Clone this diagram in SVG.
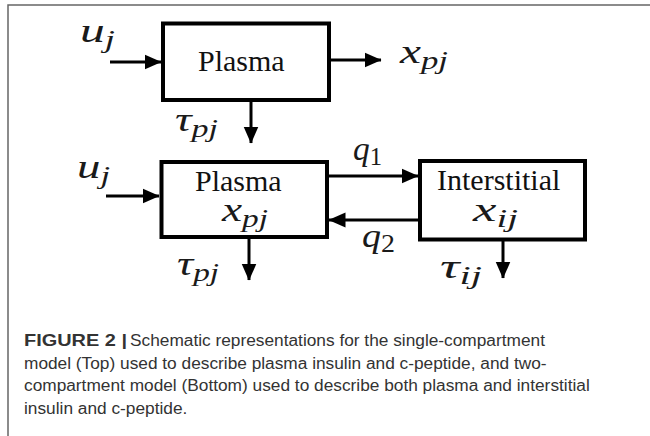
<svg xmlns="http://www.w3.org/2000/svg" width="650" height="436" viewBox="0 0 650 436">
<style>
.box{fill:#fff;stroke:#000;stroke-width:4}
.lbl{font-family:"Liberation Serif",serif;font-size:30px;fill:#111}
.m{font-family:"Liberation Serif",serif;font-style:italic;font-size:34px;fill:#1a1a1a}
.s{font-size:25px}
.con{stroke:#000;stroke-width:3;fill:none;marker-end:url(#ah)}
.cap{font-family:"Liberation Sans",Arial,sans-serif;font-size:17.3px;fill:#333}
</style>
<defs>
<marker id="ah" markerUnits="userSpaceOnUse" markerWidth="17" markerHeight="16" viewBox="0 0 17 16" refX="16.5" refY="8" orient="auto">
<path d="M0,0.5 L17,8 L0,15.5 Z" fill="#000"/>
</marker>
</defs>
<rect width="650" height="436" fill="#fff"/>
<path d="M8,436 V5 H650" fill="none" stroke="#666" stroke-width="1.5"/>
<g id="connectors">
<line class="con" x1="110" y1="62" x2="161" y2="62"/>
<line class="con" x1="331" y1="60" x2="381" y2="60"/>
<line class="con" x1="251" y1="102" x2="251" y2="143"/>
<line class="con" x1="106" y1="196" x2="159" y2="196"/>
<line class="con" x1="329" y1="176" x2="418" y2="176"/>
<line class="con" x1="418" y1="220" x2="329" y2="220"/>
<line class="con" x1="249" y1="239" x2="249" y2="280"/>
<line class="con" x1="503" y1="241" x2="503" y2="278"/>
</g>
<g id="labels">
<text class="m" x="80" y="42" textLength="35" lengthAdjust="spacingAndGlyphs">u<tspan class="s" dy="6">j</tspan></text>
<text class="m" x="400" y="63" textLength="48" lengthAdjust="spacingAndGlyphs">x<tspan class="s" dy="6">pj</tspan></text>
<text class="m" x="175" y="131" textLength="43" lengthAdjust="spacingAndGlyphs">τ<tspan class="s" dy="6">pj</tspan></text>
<text class="m" x="77" y="178" textLength="33" lengthAdjust="spacingAndGlyphs">u<tspan class="s" dy="6">j</tspan></text>
<text class="m" x="353" y="160" textLength="29" lengthAdjust="spacingAndGlyphs">q<tspan class="s" dy="5" font-style="normal">1</tspan></text>
<text class="m" x="362" y="247" textLength="33" lengthAdjust="spacingAndGlyphs">q<tspan class="s" dy="5" font-style="normal">2</tspan></text>
<text class="m" x="177" y="275" textLength="42" lengthAdjust="spacingAndGlyphs">τ<tspan class="s" dy="6">pj</tspan></text>
<text class="m" x="440" y="278" textLength="42" lengthAdjust="spacingAndGlyphs">τ<tspan class="s" dy="6">ij</tspan></text>
</g>
<g id="plasma-top">
<rect class="box" x="163" y="23.5" width="166" height="76.5"/>
<text class="lbl" x="198" y="71">Plasma</text>
</g>
<g id="plasma-bottom">
<rect class="box" x="161.5" y="162" width="165.5" height="75"/>
<text class="lbl" x="195" y="191">Plasma</text>
<text class="m" x="222" y="221" textLength="46" lengthAdjust="spacingAndGlyphs">x<tspan class="s" dy="6">pj</tspan></text>
</g>
<g id="interstitial">
<rect class="box" x="420" y="161" width="165" height="78.5"/>
<text class="lbl" x="437" y="190">Interstitial</text>
<text class="m" x="473" y="221" textLength="45" lengthAdjust="spacingAndGlyphs">x<tspan class="s" dy="6">ij</tspan></text>
</g>
<g id="caption">
<text class="cap" x="24" y="346" font-weight="bold" fill="#222" textLength="103" lengthAdjust="spacingAndGlyphs">FIGURE 2 |</text>
<text class="cap" x="130" y="346">Schematic representations for the single-compartment</text>
<text class="cap" x="24" y="368.5">model (Top) used to describe plasma insulin and c-peptide, and two-</text>
<text class="cap" x="24" y="391">compartment model (Bottom) used to describe both plasma and interstitial</text>
<text class="cap" x="24" y="413.5">insulin and c-peptide.</text>
</g>
</svg>
